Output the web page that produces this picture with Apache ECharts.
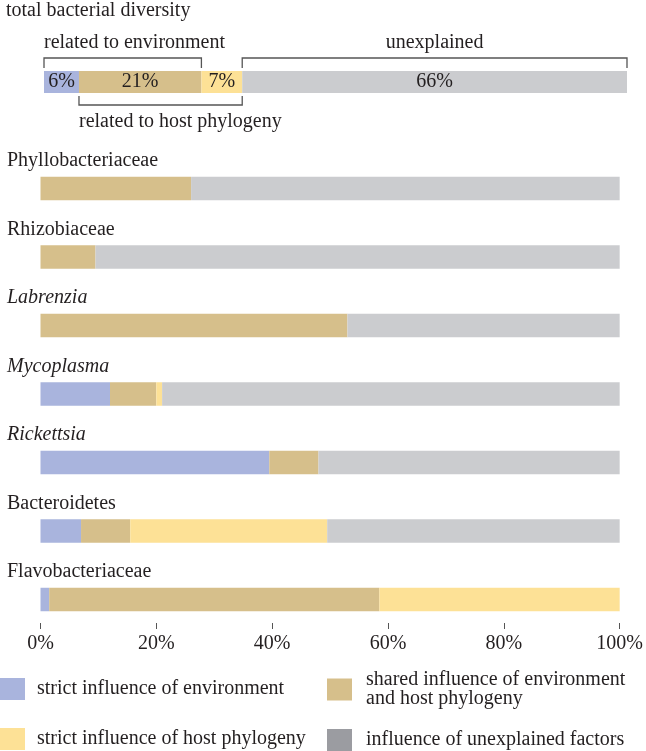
<!DOCTYPE html>
<html><head><meta charset="utf-8">
<script src="https://cdn.jsdelivr.net/npm/echarts@6/dist/echarts.min.js"></script>
<style>html,body{margin:0;padding:0;background:#fff}#c{width:646px;height:751px}</style>
</head><body><div id="c"></div>
<script>
// ---------- data ----------
const categories = ['Phyllobacteriaceae','Rhizobiaceae','Labrenzia','Mycoplasma','Rickettsia','Bacteroidetes','Flavobacteriaceae'];
const italicCategories = ['Labrenzia','Mycoplasma','Rickettsia'];
const strictEnv   = [0, 0, 0, 12, 39.5, 7, 1.5];
const sharedInf   = [26, 9.5, 53, 8, 8.5, 8.5, 57];
const strictHost  = [0, 0, 0, 1, 0, 34, 41.5];
const unexplained = [74, 90.5, 47, 79, 52, 50.5, 0];

const totalTitle = 'total bacterial diversity';
const totalCategory = ['total'];
const totalValues = [6, 21, 7, 66];

const bracketLabels = ['related to environment', 'unexplained', 'related to host phylogeny'];
const bracketStart = [0, 34, 6];
const bracketEnd   = [27, 100, 34];
const bracketSide  = ['top', 'top', 'bottom'];

const xTickMin = 0, xTickMax = 100, xTickStep = 20;

const seriesNames = [
  'strict influence of environment',
  'shared influence of environment\nand host phylogeny',
  'strict influence of host phylogeny',
  'influence of unexplained factors'
];

// ---------- style ----------
const FONT = '"Liberation Serif", "Times New Roman", serif';
const FS = 20;
const TXT = '#231f20';
const colors = ['#a9b4dd', '#d6bf8b', '#fde196', '#cbcccf'];
const legendUnexplained = '#9b9ca1';

const mainData = [strictEnv, sharedInf, strictHost, unexplained];

const canvas = document.createElement('canvas');
const ctx2d = canvas.getContext('2d');
ctx2d.font = FS + 'px ' + FONT;
function textW(t){ return ctx2d.measureText(t).width; }

const chart = echarts.init(document.getElementById('c'), null, {renderer: 'canvas'});

const series = [];
mainData.forEach((arr, k) => {
  series.push({
    name: seriesNames[k], type: 'bar', stack: 'main',
    xAxisIndex: 0, yAxisIndex: 0, barWidth: 23.5,
    itemStyle: {color: colors[k], borderWidth: 0}, data: arr, silent: true
  });
});
totalValues.forEach((v, k) => {
  series.push({
    name: seriesNames[k], type: 'bar', stack: 'top',
    xAxisIndex: 1, yAxisIndex: 1, barWidth: 22,
    itemStyle: {color: colors[k], borderWidth: 0}, data: [v], silent: true,
    label: {show: true, position: 'inside', formatter: '{c}%', color: TXT,
            fontFamily: FONT, fontSize: FS}
  });
});
series.push({
  type: 'custom', xAxisIndex: 1, yAxisIndex: 1, silent: true, clip: false,
  data: bracketLabels.map((l, i) => [bracketStart[i], bracketEnd[i], i]),
  encode: {x: [0, 1]},
  renderItem: function (params, api) {
    const i = api.value(2);
    const p0 = api.coord([api.value(0), 0]);
    const p1 = api.coord([api.value(1), 0]);
    const half = 11;
    const isTop = bracketSide[i] === 'top';
    const lineY = isTop ? p0[1] - half - 13 : p0[1] + half + 12;
    const tickEnd = isTop ? p0[1] - half - 3 : p0[1] + half + 3;
    const label = bracketLabels[i];
    const wide = textW(label) > (p1[0] - p0[0]);
    return {
      type: 'group',
      children: [
        {type: 'polyline', shape: {points: [[p0[0], tickEnd], [p0[0], lineY], [p1[0], lineY], [p1[0], tickEnd]]},
         style: {stroke: '#555', lineWidth: 1.3, fill: null}},
        {type: 'text', style: {
          text: label, x: wide ? p0[0] : (p0[0] + p1[0]) / 2,
          y: isTop ? lineY - 15 : lineY + 17,
          align: wide ? 'left' : 'center', verticalAlign: 'middle',
          font: FS + 'px ' + FONT, fill: TXT}}
      ]
    };
  }
});

const option = {
  animation: false,
  title: {text: totalTitle, left: 6, top: 1, padding: 0,
          textStyle: {fontFamily: FONT, fontSize: FS, fontWeight: 'normal', color: TXT}},
  grid: [
    {left: 40.5, right: 24.5, top: 154.25, bottom: 117.25},
    {left: 44, right: 19, top: 71, height: 22}
  ],
  xAxis: [
    {type: 'value', gridIndex: 0, min: xTickMin, max: xTickMax, interval: xTickStep,
     offset: -10.75,
     axisLine: {show: false}, splitLine: {show: false},
     axisTick: {show: true, length: 6, lineStyle: {color: '#555', width: 1}},
     axisLabel: {formatter: '{value}%', margin: 11, color: TXT, fontFamily: FONT, fontSize: FS}},
    {type: 'value', gridIndex: 1, min: 0, max: 100, show: false}
  ],
  yAxis: [
    {type: 'category', gridIndex: 0, data: categories, inverse: true,
     axisLine: {show: false}, axisTick: {show: false},
     axisLabel: {
       align: 'left', margin: 33.5, verticalAlign: 'middle', padding: [0, 0, 55, 0],
       formatter: v => italicCategories.includes(v) ? '{i|' + v + '}' : '{n|' + v + '}',
       rich: {
         i: {fontStyle: 'italic', fontFamily: FONT, fontSize: FS, color: TXT},
         n: {fontFamily: FONT, fontSize: FS, color: TXT}
       }
     }},
    {type: 'category', gridIndex: 1, data: totalCategory, show: false}
  ],
  legend: [
    {left: 0, top: 678, orient: 'vertical', padding: 0, itemGap: 28,
     itemWidth: 25, itemHeight: 22, icon: 'rect', selectedMode: false,
     itemStyle: {borderWidth: 0},
     textStyle: {fontFamily: FONT, fontSize: FS, color: TXT, lineHeight: 19, padding: [0, 0, 0, 7]},
     data: [seriesNames[0], seriesNames[2]]},
    {left: 327, top: 670, orient: 'vertical', padding: 0, itemGap: 20,
     itemWidth: 25, itemHeight: 22, icon: 'rect', selectedMode: false,
     itemStyle: {borderWidth: 0},
     textStyle: {fontFamily: FONT, fontSize: FS, color: TXT, lineHeight: 19, padding: [0, 0, 0, 9]},
     data: [seriesNames[1], {name: seriesNames[3], itemStyle: {color: legendUnexplained}}]}
  ],
  series: series
};
chart.setOption(option);
</script>
</body></html>
